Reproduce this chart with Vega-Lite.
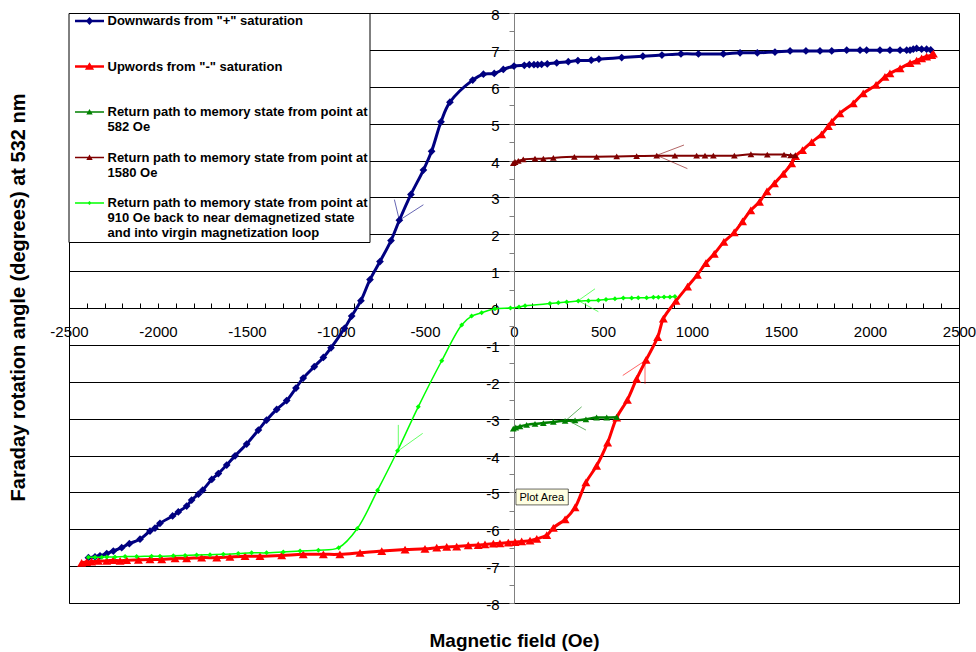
{
  "$schema": "https://vega.github.io/schema/vega-lite/v6.json",
  "width": 890,
  "height": 590,
  "autosize": {"type": "none"},
  "padding": {"left": 69, "top": 13, "right": 17, "bottom": 49},
  "background": "#ffffff",
  "config": {"view": {"stroke": "#000000", "strokeWidth": 1}, "font": "Liberation Sans"},
  "datasets": {
    "pts": [
      {"s":"s1","i":0,"x":2341,"y":7.00},{"s":"s1","i":1,"x":2318,"y":7.02},{"s":"s1","i":2,"x":2290,"y":7.02},{"s":"s1","i":3,"x":2262,"y":7.04},{"s":"s1","i":4,"x":2243,"y":7.02},{"s":"s1","i":5,"x":2225,"y":6.99},{"s":"s1","i":6,"x":2206,"y":6.99},{"s":"s1","i":7,"x":2169,"y":6.99},{"s":"s1","i":8,"x":2112,"y":6.99},{"s":"s1","i":9,"x":2056,"y":6.99},{"s":"s1","i":10,"x":1981,"y":6.99},{"s":"s1","i":11,"x":1944,"y":6.99},{"s":"s1","i":12,"x":1869,"y":6.99},{"s":"s1","i":13,"x":1785,"y":6.97},{"s":"s1","i":14,"x":1719,"y":6.97},{"s":"s1","i":15,"x":1640,"y":6.97},{"s":"s1","i":16,"x":1551,"y":6.97},{"s":"s1","i":17,"x":1466,"y":6.94},{"s":"s1","i":18,"x":1367,"y":6.92},{"s":"s1","i":19,"x":1270,"y":6.92},{"s":"s1","i":20,"x":1176,"y":6.89},{"s":"s1","i":21,"x":1036,"y":6.89},{"s":"s1","i":22,"x":938,"y":6.89},{"s":"s1","i":23,"x":831,"y":6.86},{"s":"s1","i":24,"x":724,"y":6.83},{"s":"s1","i":25,"x":605,"y":6.79},{"s":"s1","i":26,"x":477,"y":6.75},{"s":"s1","i":27,"x":434,"y":6.72},{"s":"s1","i":28,"x":359,"y":6.71},{"s":"s1","i":29,"x":305,"y":6.68},{"s":"s1","i":30,"x":240,"y":6.65},{"s":"s1","i":31,"x":187,"y":6.62},{"s":"s1","i":32,"x":155,"y":6.61},{"s":"s1","i":33,"x":133,"y":6.60},{"s":"s1","i":34,"x":112,"y":6.60},{"s":"s1","i":35,"x":86,"y":6.60},{"s":"s1","i":36,"x":58,"y":6.58},{"s":"s1","i":37,"x":0,"y":6.56},{"s":"s1","i":38,"x":-60,"y":6.47},{"s":"s1","i":39,"x":-111,"y":6.36},{"s":"s1","i":40,"x":-172,"y":6.34},{"s":"s1","i":41,"x":-232,"y":6.18},{"s":"s1","i":42,"x":-360,"y":5.58},{"s":"s1","i":43,"x":-410,"y":5.05},{"s":"s1","i":44,"x":-463,"y":4.25},{"s":"s1","i":45,"x":-509,"y":3.74},{"s":"s1","i":46,"x":-579,"y":3.08},{"s":"s1","i":47,"x":-644,"y":2.38},{"s":"s1","i":48,"x":-691,"y":1.83},{"s":"s1","i":49,"x":-753,"y":1.26},{"s":"s1","i":50,"x":-809,"y":0.77},{"s":"s1","i":51,"x":-860,"y":0.20},{"s":"s1","i":52,"x":-912,"y":-0.22},{"s":"s1","i":53,"x":-952,"y":-0.55},{"s":"s1","i":54,"x":-1028,"y":-1.08},{"s":"s1","i":55,"x":-1071,"y":-1.34},{"s":"s1","i":56,"x":-1122,"y":-1.59},{"s":"s1","i":57,"x":-1184,"y":-1.90},{"s":"s1","i":58,"x":-1225,"y":-2.17},{"s":"s1","i":59,"x":-1277,"y":-2.51},{"s":"s1","i":60,"x":-1333,"y":-2.75},{"s":"s1","i":61,"x":-1390,"y":-3.04},{"s":"s1","i":62,"x":-1436,"y":-3.31},{"s":"s1","i":63,"x":-1502,"y":-3.69},{"s":"s1","i":64,"x":-1567,"y":-4.01},{"s":"s1","i":65,"x":-1614,"y":-4.26},{"s":"s1","i":66,"x":-1661,"y":-4.49},{"s":"s1","i":67,"x":-1698,"y":-4.65},{"s":"s1","i":68,"x":-1749,"y":-4.94},{"s":"s1","i":69,"x":-1773,"y":-5.05},{"s":"s1","i":70,"x":-1811,"y":-5.21},{"s":"s1","i":71,"x":-1839,"y":-5.37},{"s":"s1","i":72,"x":-1886,"y":-5.53},{"s":"s1","i":73,"x":-1918,"y":-5.64},{"s":"s1","i":74,"x":-1989,"y":-5.84},{"s":"s1","i":75,"x":-2017,"y":-5.97},{"s":"s1","i":76,"x":-2045,"y":-6.05},{"s":"s1","i":77,"x":-2101,"y":-6.27},{"s":"s1","i":78,"x":-2161,"y":-6.39},{"s":"s1","i":79,"x":-2204,"y":-6.50},{"s":"s1","i":80,"x":-2251,"y":-6.59},{"s":"s1","i":81,"x":-2288,"y":-6.66},{"s":"s1","i":82,"x":-2326,"y":-6.72},{"s":"s1","i":83,"x":-2354,"y":-6.75},{"s":"s1","i":84,"x":-2391,"y":-6.77},
      {"s":"s2","i":0,"x":-2429,"y":-6.91},{"s":"s2","i":1,"x":-2401,"y":-6.89},{"s":"s2","i":2,"x":-2373,"y":-6.88},{"s":"s2","i":3,"x":-2335,"y":-6.86},{"s":"s2","i":4,"x":-2288,"y":-6.86},{"s":"s2","i":5,"x":-2251,"y":-6.84},{"s":"s2","i":6,"x":-2213,"y":-6.86},{"s":"s2","i":7,"x":-2176,"y":-6.84},{"s":"s2","i":8,"x":-2110,"y":-6.83},{"s":"s2","i":9,"x":-2045,"y":-6.82},{"s":"s2","i":10,"x":-1979,"y":-6.82},{"s":"s2","i":11,"x":-1904,"y":-6.79},{"s":"s2","i":12,"x":-1839,"y":-6.79},{"s":"s2","i":13,"x":-1755,"y":-6.77},{"s":"s2","i":14,"x":-1670,"y":-6.77},{"s":"s2","i":15,"x":-1596,"y":-6.75},{"s":"s2","i":16,"x":-1511,"y":-6.73},{"s":"s2","i":17,"x":-1427,"y":-6.73},{"s":"s2","i":18,"x":-1305,"y":-6.71},{"s":"s2","i":19,"x":-1184,"y":-6.68},{"s":"s2","i":20,"x":-1071,"y":-6.68},{"s":"s2","i":21,"x":-978,"y":-6.68},{"s":"s2","i":22,"x":-865,"y":-6.64},{"s":"s2","i":23,"x":-743,"y":-6.59},{"s":"s2","i":24,"x":-612,"y":-6.55},{"s":"s2","i":25,"x":-500,"y":-6.53},{"s":"s2","i":26,"x":-434,"y":-6.50},{"s":"s2","i":27,"x":-378,"y":-6.48},{"s":"s2","i":28,"x":-322,"y":-6.47},{"s":"s2","i":29,"x":-257,"y":-6.44},{"s":"s2","i":30,"x":-201,"y":-6.43},{"s":"s2","i":31,"x":-163,"y":-6.41},{"s":"s2","i":32,"x":-116,"y":-6.39},{"s":"s2","i":33,"x":-79,"y":-6.38},{"s":"s2","i":34,"x":-32,"y":-6.36},{"s":"s2","i":35,"x":6,"y":-6.35},{"s":"s2","i":36,"x":43,"y":-6.33},{"s":"s2","i":37,"x":90,"y":-6.31},{"s":"s2","i":38,"x":128,"y":-6.26},{"s":"s2","i":39,"x":184,"y":-6.16},{"s":"s2","i":40,"x":221,"y":-5.96},{"s":"s2","i":41,"x":287,"y":-5.73},{"s":"s2","i":42,"x":343,"y":-5.41},{"s":"s2","i":43,"x":404,"y":-4.73},{"s":"s2","i":44,"x":464,"y":-4.28},{"s":"s2","i":45,"x":526,"y":-3.65},{"s":"s2","i":46,"x":577,"y":-2.97},{"s":"s2","i":47,"x":637,"y":-2.49},{"s":"s2","i":48,"x":689,"y":-1.92},{"s":"s2","i":49,"x":742,"y":-1.41},{"s":"s2","i":50,"x":807,"y":-0.79},{"s":"s2","i":51,"x":839,"y":-0.29},{"s":"s2","i":52,"x":910,"y":0.19},{"s":"s2","i":53,"x":975,"y":0.58},{"s":"s2","i":54,"x":1030,"y":0.90},{"s":"s2","i":55,"x":1078,"y":1.22},{"s":"s2","i":56,"x":1125,"y":1.47},{"s":"s2","i":57,"x":1179,"y":1.79},{"s":"s2","i":58,"x":1237,"y":2.05},{"s":"s2","i":59,"x":1284,"y":2.35},{"s":"s2","i":60,"x":1330,"y":2.65},{"s":"s2","i":61,"x":1379,"y":2.88},{"s":"s2","i":62,"x":1421,"y":3.16},{"s":"s2","i":63,"x":1463,"y":3.38},{"s":"s2","i":64,"x":1513,"y":3.64},{"s":"s2","i":65,"x":1560,"y":3.92},{"s":"s2","i":66,"x":1582,"y":4.12},{"s":"s2","i":67,"x":1621,"y":4.28},{"s":"s2","i":68,"x":1672,"y":4.50},{"s":"s2","i":69,"x":1728,"y":4.71},{"s":"s2","i":70,"x":1766,"y":4.93},{"s":"s2","i":71,"x":1785,"y":5.05},{"s":"s2","i":72,"x":1831,"y":5.28},{"s":"s2","i":73,"x":1906,"y":5.55},{"s":"s2","i":74,"x":1962,"y":5.82},{"s":"s2","i":75,"x":2034,"y":6.05},{"s":"s2","i":76,"x":2084,"y":6.27},{"s":"s2","i":77,"x":2112,"y":6.36},{"s":"s2","i":78,"x":2169,"y":6.50},{"s":"s2","i":79,"x":2225,"y":6.64},{"s":"s2","i":80,"x":2262,"y":6.71},{"s":"s2","i":81,"x":2290,"y":6.77},{"s":"s2","i":82,"x":2318,"y":6.82},{"s":"s2","i":83,"x":2347,"y":6.86},{"s":"s2","i":84,"x":2356,"y":6.90},
      {"s":"s3","i":0,"x":577,"y":-2.96},{"s":"s3","i":1,"x":521,"y":-2.97},{"s":"s3","i":2,"x":464,"y":-2.97},{"s":"s3","i":3,"x":404,"y":-3.02},{"s":"s3","i":4,"x":343,"y":-3.05},{"s":"s3","i":5,"x":287,"y":-3.06},{"s":"s3","i":6,"x":221,"y":-3.09},{"s":"s3","i":7,"x":165,"y":-3.12},{"s":"s3","i":8,"x":118,"y":-3.14},{"s":"s3","i":9,"x":71,"y":-3.17},{"s":"s3","i":10,"x":34,"y":-3.21},{"s":"s3","i":11,"x":10,"y":-3.24},{"s":"s3","i":12,"x":-4,"y":-3.27},
      {"s":"s4","i":0,"x":1580,"y":4.14},{"s":"s4","i":1,"x":1554,"y":4.14},{"s":"s4","i":2,"x":1517,"y":4.16},{"s":"s4","i":3,"x":1423,"y":4.16},{"s":"s4","i":4,"x":1331,"y":4.17},{"s":"s4","i":5,"x":1238,"y":4.13},{"s":"s4","i":6,"x":1120,"y":4.13},{"s":"s4","i":7,"x":1073,"y":4.13},{"s":"s4","i":8,"x":1026,"y":4.13},{"s":"s4","i":9,"x":904,"y":4.13},{"s":"s4","i":10,"x":802,"y":4.13},{"s":"s4","i":11,"x":689,"y":4.12},{"s":"s4","i":12,"x":577,"y":4.11},{"s":"s4","i":13,"x":464,"y":4.10},{"s":"s4","i":14,"x":339,"y":4.10},{"s":"s4","i":15,"x":221,"y":4.07},{"s":"s4","i":16,"x":165,"y":4.05},{"s":"s4","i":17,"x":118,"y":4.05},{"s":"s4","i":18,"x":52,"y":4.03},{"s":"s4","i":19,"x":24,"y":3.99},{"s":"s4","i":20,"x":6,"y":3.96},{"s":"s4","i":21,"x":-4,"y":3.93},
      {"s":"s5","i":0,"x":904,"y":0.31},{"s":"s5","i":1,"x":876,"y":0.30},{"s":"s5","i":2,"x":843,"y":0.30},{"s":"s5","i":3,"x":811,"y":0.29},{"s":"s5","i":4,"x":783,"y":0.29},{"s":"s5","i":5,"x":745,"y":0.28},{"s":"s5","i":6,"x":698,"y":0.28},{"s":"s5","i":7,"x":661,"y":0.27},{"s":"s5","i":8,"x":614,"y":0.27},{"s":"s5","i":9,"x":567,"y":0.25},{"s":"s5","i":10,"x":517,"y":0.23},{"s":"s5","i":11,"x":474,"y":0.21},{"s":"s5","i":12,"x":418,"y":0.20},{"s":"s5","i":13,"x":361,"y":0.19},{"s":"s5","i":14,"x":296,"y":0.16},{"s":"s5","i":15,"x":249,"y":0.14},{"s":"s5","i":16,"x":202,"y":0.12},{"s":"s5","i":17,"x":62,"y":0.06},{"s":"s5","i":18,"x":28,"y":0.03},{"s":"s5","i":19,"x":-20,"y":0.00},{"s":"s5","i":20,"x":-107,"y":-0.02},{"s":"s5","i":21,"x":-182,"y":-0.13},{"s":"s5","i":22,"x":-238,"y":-0.22},{"s":"s5","i":23,"x":-294,"y":-0.46},{"s":"s5","i":24,"x":-406,"y":-1.43},{"s":"s5","i":25,"x":-538,"y":-2.68},{"s":"s5","i":26,"x":-654,"y":-3.87},{"s":"s5","i":27,"x":-766,"y":-4.94},{"s":"s5","i":28,"x":-880,"y":-5.98},{"s":"s5","i":29,"x":-985,"y":-6.50},{"s":"s5","i":30,"x":-1099,"y":-6.57},{"s":"s5","i":31,"x":-1202,"y":-6.59},{"s":"s5","i":32,"x":-1296,"y":-6.62},{"s":"s5","i":33,"x":-1390,"y":-6.64},{"s":"s5","i":34,"x":-1474,"y":-6.64},{"s":"s5","i":35,"x":-1549,"y":-6.66},{"s":"s5","i":36,"x":-1633,"y":-6.68},{"s":"s5","i":37,"x":-1708,"y":-6.69},{"s":"s5","i":38,"x":-1783,"y":-6.70},{"s":"s5","i":39,"x":-1848,"y":-6.71},{"s":"s5","i":40,"x":-1914,"y":-6.72},{"s":"s5","i":41,"x":-1989,"y":-6.73},{"s":"s5","i":42,"x":-2036,"y":-6.73},{"s":"s5","i":43,"x":-2120,"y":-6.74},{"s":"s5","i":44,"x":-2185,"y":-6.74},{"s":"s5","i":45,"x":-2242,"y":-6.75},{"s":"s5","i":46,"x":-2288,"y":-6.75},{"s":"s5","i":47,"x":-2316,"y":-6.76},{"s":"s5","i":48,"x":-2354,"y":-6.76},{"s":"s5","i":49,"x":-2391,"y":-6.76}
    ],
    "arrows": [
      {"s":"s1","x":-672,"y":2.94,"x2":-644,"y2":2.38},{"s":"s1","x":-644,"y":2.38,"x2":-509,"y2":2.80},
      {"s":"s4","x":955,"y":4.42,"x2":802,"y2":4.14},{"s":"s4","x":802,"y":4.14,"x2":974,"y2":3.78},
      {"s":"s5","x":455,"y":0.52,"x2":361,"y2":0.20},{"s":"s5","x":361,"y":0.20,"x2":474,"y2":-0.10},
      {"s":"s3","x":380,"y":-2.68,"x2":296,"y2":-3.03},{"s":"s3","x":296,"y":-3.03,"x2":404,"y2":-3.31},
      {"s":"s2","x":611,"y":-1.83,"x2":736,"y2":-1.43},{"s":"s2","x":736,"y":-1.43,"x2":736,"y2":-2.06},
      {"s":"s5","x":-650,"y":-3.17,"x2":-650,"y2":-3.87},{"s":"s5","x":-650,"y":-3.87,"x2":-513,"y2":-3.40}
    ],
    "tip": [{"x": 11, "x2": 305, "y": -4.91, "y2": -5.34, "label": "Plot Area"}]
  },
  "data": {"name": "pts"},
  "encoding": {
    "x": {
      "field": "x", "type": "quantitative",
      "scale": {"domain": [-2500, 2500], "nice": false, "zero": false},
      "axis": {
        "orient": "bottom", "offset": -295,
        "values": [-2500,-2400,-2300,-2200,-2100,-2000,-1900,-1800,-1700,-1600,-1500,-1400,-1300,-1200,-1100,-1000,-900,-800,-700,-600,-500,-400,-300,-200,-100,0,100,200,300,400,500,600,700,800,900,1000,1100,1200,1300,1400,1500,1600,1700,1800,1900,2000,2100,2200,2300,2400,2500],
        "labelExpr": "datum.value % 500 === 0 ? toString(datum.value) : ''",
        "labelOverlap": false, "labelFlush": false,
        "labelFont": "Liberation Sans", "labelFontSize": 15, "labelColor": "#000000",
        "labelPadding": 21,
        "tickSize": -5, "tickColor": "#000000", "tickWidth": 1,
        "domainColor": "#000000", "domainWidth": 1,
        "grid": false,
        "title": "Magnetic field (Oe)",
        "titleFont": "Liberation Sans", "titleFontSize": 19, "titleFontWeight": "bold", "titleColor": "#000000",
        "titleX": 445, "titleY": 332, "titleAlign": "center", "titleBaseline": "middle"
      }
    },
    "y": {
      "field": "y", "type": "quantitative",
      "scale": {"domain": [-8, 8], "nice": false, "zero": false},
      "axis": {
        "orient": "left", "offset": -445,
        "values": [-8,-7.5,-7,-6.5,-6,-5.5,-5,-4.5,-4,-3.5,-3,-2.5,-2,-1.5,-1,-0.5,0,0.5,1,1.5,2,2.5,3,3.5,4,4.5,5,5.5,6,6.5,7,7.5,8],
        "labelExpr": "datum.value % 1 === 0 ? toString(datum.value) : ''",
        "labelOverlap": false, "labelFlush": false,
        "labelFont": "Liberation Sans", "labelFontSize": 15, "labelColor": "#000000",
        "labelPadding": 10, "labelOffset": 1.5,
        "tickSize": 5, "tickColor": "#808080", "tickWidth": 1,
        "domainColor": "#808080", "domainWidth": 1,
        "grid": true, "gridColor": "#000000", "gridWidth": 1,
        "gridOpacity": {"condition": {"test": "datum.value % 1 !== 0", "value": 0}, "value": 1},
        "title": "Faraday rotation angle (degrees) at 532 nm",
        "titleFont": "Liberation Sans", "titleFontSize": 20, "titleFontWeight": "bold", "titleColor": "#000000",
        "titleX": -496, "titleY": 284, "titleAngle": 270, "titleAlign": "center", "titleBaseline": "middle"
      }
    }
  },
  "layer": [
    {
      "mark": {"type": "point", "filled": true, "opacity": 0},
      "encoding": {
        "color": {
          "field": "s", "type": "nominal",
          "scale": {"domain": ["s1","s2","s3","s4","s5"], "range": ["#000080","#ff0000","#008000","#800000","#00ff00"]},
          "legend": {
            "orient": "none", "legendX": -0.5, "legendY": 0, "title": null,
            "fillColor": "#ffffff", "strokeColor": "#000000",
            "padding": 1.5, "rowPadding": 1.5, "direction": "vertical", "columns": 1,
            "symbolSize": 169, "symbolStrokeWidth": 0, "symbolOpacity": 1, "symbolOffset": 13,
            "labelOffset": 11.5, "labelFont": "Liberation Sans", "labelFontSize": 13, "labelFontWeight": "bold", "labelColor": "#000000", "labelLimit": 600, "labelLineHeight": 15.5, "labelBaseline": "middle",
            "labelExpr": "datum.value === 's1' ? ['Downwards from \"+\" saturation', '', ''] : datum.value === 's2' ? ['Upwords from \"-\" saturation', '', ''] : datum.value === 's3' ? ['Return path to memory state from point at', '582 Oe', ''] : datum.value === 's4' ? ['Return path to memory state from point at', '1580 Oe', ''] : ['Return path to memory state from point at', '910 Oe back to near demagnetized state', 'and into virgin magnetization loop']"
          }
        },
        "shape": {
          "field": "s", "type": "nominal",
          "scale": {"domain": ["s1","s2","s3","s4","s5"], "range": [
            "M-2.23,-0.2H2.23V0.2H-2.23Z M0,-0.62L0.56,0L0,0.62L-0.56,0Z",
            "M-2.23,-0.2H2.23V0.2H-2.23Z M0,-0.65L0.71,0.51L-0.71,0.51Z",
            "M-2.23,-0.13H2.23V0.13H-2.23Z M0,-0.47L0.49,0.38L-0.49,0.38Z",
            "M-2.23,-0.13H2.23V0.13H-2.23Z M0,-0.47L0.49,0.38L-0.49,0.38Z",
            "M-2.23,-0.11H2.23V0.11H-2.23Z M0,-0.31L0.33,0L0,0.31L-0.33,0Z"
          ]},
          "legend": {
            "orient": "none", "legendX": -0.5, "legendY": 0, "title": null,
            "fillColor": "#ffffff", "strokeColor": "#000000",
            "padding": 1.5, "rowPadding": 1.5, "direction": "vertical", "columns": 1,
            "symbolSize": 169, "symbolStrokeWidth": 0, "symbolOpacity": 1, "symbolOffset": 13,
            "labelOffset": 11.5, "labelFont": "Liberation Sans", "labelFontSize": 13, "labelFontWeight": "bold", "labelColor": "#000000", "labelLimit": 600, "labelLineHeight": 15.5, "labelBaseline": "middle",
            "labelExpr": "datum.value === 's1' ? ['Downwards from \"+\" saturation', '', ''] : datum.value === 's2' ? ['Upwords from \"-\" saturation', '', ''] : datum.value === 's3' ? ['Return path to memory state from point at', '582 Oe', ''] : datum.value === 's4' ? ['Return path to memory state from point at', '1580 Oe', ''] : ['Return path to memory state from point at', '910 Oe back to near demagnetized state', 'and into virgin magnetization loop']"
          }
        }
      }
    },
    {
      "transform": [{"filter": "datum.s === 's1'"}],
      "encoding": {"color": {"field": "s", "type": "nominal", "scale": {"domain": ["s1","s2","s3","s4","s5"], "range": ["#000080","#ff0000","#008000","#800000","#00ff00"]}, "legend": null}},
      "layer": [
        {"mark": {"type": "line", "strokeWidth": 3, "interpolate": "catmull-rom"}, "encoding": {"order": {"field": "i", "type": "quantitative"}}},
        {"mark": {"type": "point", "shape": "diamond", "filled": true, "size": 60, "opacity": 1}}
      ]
    },
    {
      "transform": [{"filter": "datum.s === 's2'"}],
      "encoding": {"color": {"field": "s", "type": "nominal", "scale": {"domain": ["s1","s2","s3","s4","s5"], "range": ["#000080","#ff0000","#008000","#800000","#00ff00"]}, "legend": null}},
      "layer": [
        {"mark": {"type": "line", "strokeWidth": 3, "interpolate": "catmull-rom"}, "encoding": {"order": {"field": "i", "type": "quantitative"}}},
        {"mark": {"type": "point", "shape": "triangle-up", "filled": true, "size": 80, "opacity": 1}}
      ]
    },
    {
      "transform": [{"filter": "datum.s === 's3'"}],
      "encoding": {"color": {"field": "s", "type": "nominal", "scale": {"domain": ["s1","s2","s3","s4","s5"], "range": ["#000080","#ff0000","#008000","#800000","#00ff00"]}, "legend": null}},
      "layer": [
        {"mark": {"type": "line", "strokeWidth": 2.5, "interpolate": "catmull-rom"}, "encoding": {"order": {"field": "i", "type": "quantitative"}}},
        {"mark": {"type": "point", "shape": "triangle-up", "filled": true, "size": 45, "opacity": 1}}
      ]
    },
    {
      "transform": [{"filter": "datum.s === 's4'"}],
      "encoding": {"color": {"field": "s", "type": "nominal", "scale": {"domain": ["s1","s2","s3","s4","s5"], "range": ["#000080","#ff0000","#008000","#800000","#00ff00"]}, "legend": null}},
      "layer": [
        {"mark": {"type": "line", "strokeWidth": 2, "interpolate": "catmull-rom"}, "encoding": {"order": {"field": "i", "type": "quantitative"}}},
        {"mark": {"type": "point", "shape": "triangle-up", "filled": true, "size": 45, "opacity": 1}}
      ]
    },
    {
      "transform": [{"filter": "datum.s === 's5'"}],
      "encoding": {"color": {"field": "s", "type": "nominal", "scale": {"domain": ["s1","s2","s3","s4","s5"], "range": ["#000080","#ff0000","#008000","#800000","#00ff00"]}, "legend": null}},
      "layer": [
        {"mark": {"type": "line", "strokeWidth": 1.5, "interpolate": "catmull-rom"}, "encoding": {"order": {"field": "i", "type": "quantitative"}}},
        {"mark": {"type": "point", "shape": "diamond", "filled": true, "size": 25, "opacity": 1}}
      ]
    },
    {
      "data": {"name": "arrows"},
      "mark": {"type": "rule", "strokeWidth": 1, "opacity": 0.6},
      "encoding": {
        "x2": {"field": "x2"},
        "y2": {"field": "y2"},
        "color": {"field": "s", "type": "nominal", "scale": {"domain": ["s1","s2","s3","s4","s5"], "range": ["#000080","#ff0000","#008000","#800000","#00ff00"]}, "legend": null}
      }
    },
    {
      "data": {"name": "tip"},
      "layer": [
        {"mark": {"type": "rect", "fill": "#ffffe1", "stroke": "#000000", "strokeWidth": 0.6}, "encoding": {"x2": {"field": "x2"}, "y2": {"field": "y2"}}},
        {"mark": {"type": "text", "align": "left", "baseline": "top", "dx": 3.5, "dy": 2.5, "font": "Liberation Sans", "fontSize": 11, "color": "#000000"}, "encoding": {"text": {"field": "label"}}}
      ]
    }
  ]
}
